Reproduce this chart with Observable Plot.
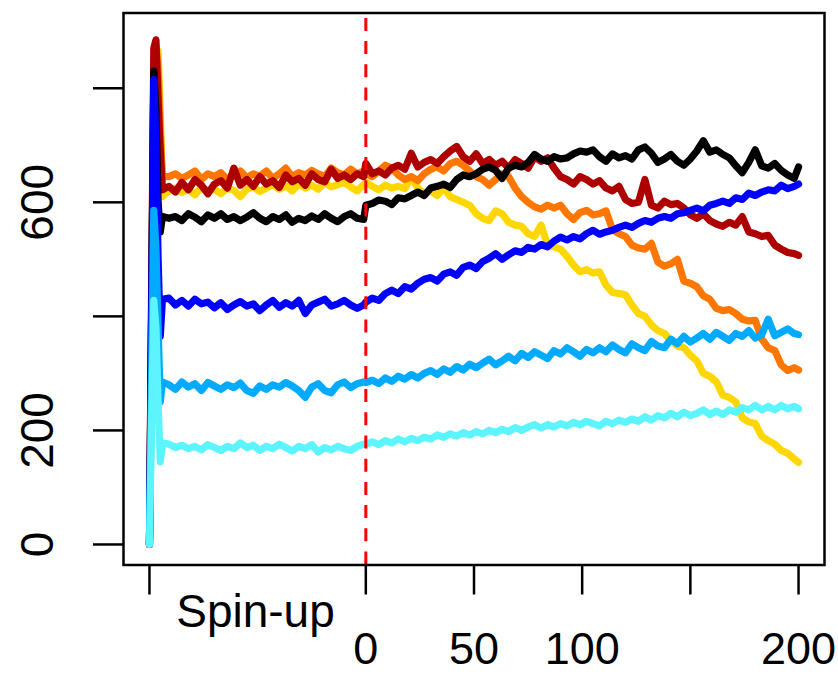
<!DOCTYPE html>
<html><head><meta charset="utf-8">
<script src="https://cdn.jsdelivr.net/npm/d3@7"></script>
<script src="https://cdn.jsdelivr.net/npm/@observablehq/plot@0.6"></script>
<style>body{margin:0;background:#fff}</style>
</head><body><div id="chart"></div>
<script>
// x positions (model years); spin-up is -100..0, experiment 0..200
const spinYears = [-100,-99,-98,-97,-96,-95,-94,-91,-88,-85,-82,-79,-76,-73,-70,-67,-64,-61,-58,-55,-52,-49,-46,-43,-40,-37,-34,-31,-28,-25,-22,-19,-16,-13,-10,-7,-4,-1];
const mainYears = [0,3,6,9,12,15,18,21,24,27,30,33,36,39,42,45,48,51,54,57,60,63,66,69,72,75,78,81,84,87,90,93,96,99,102,105,108,111,114,117,120,123,126,129,132,135,138,141,144,147,150,153,156,159,162,165,168,171,174,177,180,183,186,189,192,195,198,200];

const goldSpin = [0,300,700,840,865,760,610,620,625,617,623,613,627,620,623,615,625,621,610,623,627,619,625,631,623,629,620,633,625,630,623,635,627,631,635,627,620,631];
const goldMain = [635,628,622,630,625,628,624,644,625,615,620,612,625,610,605,600,595,580,572,568,585,580,565,560,558,545,540,560,525,522,518,505,490,478,482,476,478,455,442,440,438,420,405,400,385,375,370,358,348,345,332,322,300,295,285,262,258,250,222,215,212,190,182,176,165,160,150,144];

const orangeSpin = [0,400,820,875,830,720,645,645,650,642,648,655,640,650,645,652,640,648,655,643,650,646,655,642,650,660,645,652,648,656,650,645,660,652,648,658,650,655];
const orangeMain = [650,645,655,665,660,648,640,645,638,650,658,662,655,668,672,665,655,645,640,630,640,650,645,625,610,600,592,588,595,590,595,580,570,582,586,578,580,585,552,545,540,525,520,518,528,495,488,492,500,462,458,452,436,430,414,410,412,405,395,392,393,360,345,340,315,305,310,306];

const darkredSpin = [0,450,870,885,780,690,622,628,618,635,622,640,630,615,632,638,625,660,630,640,628,645,632,638,626,648,636,642,630,650,640,636,658,642,648,640,650,645];
const darkredMain = [668,650,655,648,660,665,658,686,662,670,675,668,680,690,698,680,672,685,668,675,665,672,660,675,668,660,680,672,678,660,645,640,632,645,640,632,638,625,620,628,605,598,600,640,595,590,602,596,598,590,578,572,580,568,562,558,565,560,575,548,545,540,542,525,518,512,510,507];

const blackSpin = [0,420,830,760,600,548,575,572,575,568,580,574,566,578,572,580,570,575,568,574,582,572,566,575,570,578,565,572,568,576,570,580,572,566,575,580,572,570];
const blackMain = [595,598,604,602,596,608,606,612,618,612,625,628,632,626,640,648,645,650,658,662,656,642,660,665,662,670,684,676,672,680,676,678,685,690,688,692,680,672,685,678,682,676,692,697,686,670,676,684,672,665,676,690,708,688,692,684,678,664,652,670,692,664,660,668,656,648,642,662];

const blueSpin = [0,400,815,700,500,365,430,432,420,428,418,430,422,425,415,424,412,420,426,418,422,410,420,428,416,424,418,428,405,420,425,430,418,422,428,420,414,420];
const blueMain = [425,432,428,440,446,440,452,448,458,465,468,462,474,478,472,486,490,484,496,502,510,500,508,515,512,521,518,526,522,532,539,534,540,536,545,551,544,548,551,556,560,556,563,568,565,572,575,572,580,582,586,590,585,595,598,602,598,608,605,616,612,618,622,620,630,624,628,632];

const skySpin = [0,300,586,520,380,250,285,280,272,285,276,282,270,284,278,272,280,275,283,270,265,278,272,280,276,284,278,270,258,276,282,270,266,280,285,275,282,285];
const skyMain = [284,288,282,292,286,295,290,298,292,300,305,298,308,302,312,306,316,310,318,325,315,322,330,322,335,328,338,332,326,340,334,345,338,330,342,336,345,338,350,342,336,352,345,340,356,348,345,360,352,365,355,362,370,360,372,365,358,370,365,375,362,368,395,366,372,378,370,368];

const cyanSpin = [0,220,428,380,250,145,178,176,170,174,168,172,166,175,170,165,172,168,178,170,174,165,172,168,176,170,164,172,168,175,162,170,166,172,168,165,172,176];
const cyanMain = [176,180,175,182,178,185,180,186,182,188,185,192,188,194,190,196,192,198,194,200,196,202,198,205,200,206,210,204,210,206,212,208,214,210,216,212,208,216,212,218,214,220,216,224,218,226,222,230,224,232,226,230,236,228,234,228,236,232,240,236,244,236,242,236,244,238,242,238];

const seriesNames  = ["gold","orange","darkred","black","blue","sky","cyan"];
const seriesColors = ["#FFD700","#FF7700","#AE0000","#000000","#0000FF","#00AAFF","#5CF5FF"];
const seriesSpin   = [goldSpin, orangeSpin, darkredSpin, blackSpin, blueSpin, skySpin, cyanSpin];
const seriesMain   = [goldMain, orangeMain, darkredMain, blackMain, blueMain, skyMain, cyanMain];

const xTicks = [-100, 0, 50, 100, 150, 200];
const xLabelPos = [0, 50, 100, 200];
const xLabelText = ["0", "50", "100", "200"];
const spinLabel = "Spin-up";
const spinLabelPos = -51;
const yTicks = [0, 200, 400, 600, 800];
const yLabelVals = [0, 200, 600];
const spinEnd = 0;

const allYears = spinYears.concat(mainYears);
const lineMarks = seriesNames.map((name, k) => {
  const vals = seriesSpin[k].concat(seriesMain[k]);
  const data = allYears.map((x, i) => ({series: name, x, y: vals[i]}));
  return Plot.line(data, {x: "x", y: "y", stroke: seriesColors[k], strokeWidth: 7.2,
    strokeLinejoin: "round", strokeLinecap: "round"});
});

const font = "'Liberation Sans', Arial, Helvetica, sans-serif";
const chart = Plot.plot({
  width: 838, height: 674,
  marginLeft: 123, marginRight: 14, marginTop: 12.5, marginBottom: 109.5,
  x: {domain: [-112, 212], label: null},
  y: {domain: [-36, 932], label: null},
  style: {fontFamily: font, background: "white", color: "black", overflow: "visible"},
  marks: [
    ...lineMarks,
    Plot.ruleX([spinEnd], {x: d => d, y1: -36, y2: 932, stroke: "#FF0000", strokeWidth: 3, strokeDasharray: "13,10.2"}),
    Plot.frame({stroke: "black", strokeWidth: 2.5}),
    Plot.axisX({ticks: xTicks, tickSize: 30, tickFormat: () => "", label: null, strokeWidth: 2.5, stroke: "black"}),
    Plot.axisY({ticks: yTicks, tickSize: 30, tickFormat: () => "", label: null, strokeWidth: 2.5, stroke: "black"}),
    Plot.text(xLabelPos, {x: d => d, text: (d, i) => xLabelText[i], frameAnchor: "bottom", dy: 85,
      fontSize: 45, lineAnchor: "middle", textAnchor: "middle", fill: "black"}),
    Plot.text([spinLabel], {x: spinLabelPos, text: d => d, frameAnchor: "bottom", dy: 47.5,
      fontSize: 46, lineAnchor: "middle", textAnchor: "middle", fill: "black"}),
    Plot.text(yLabelVals, {y: d => d, text: d => String(d), frameAnchor: "left", dx: -84.8, rotate: -90,
      fontSize: 46, lineAnchor: "middle", textAnchor: "middle", fill: "black"})
  ]
});
document.getElementById("chart").appendChild(chart);
</script>
</body></html>
